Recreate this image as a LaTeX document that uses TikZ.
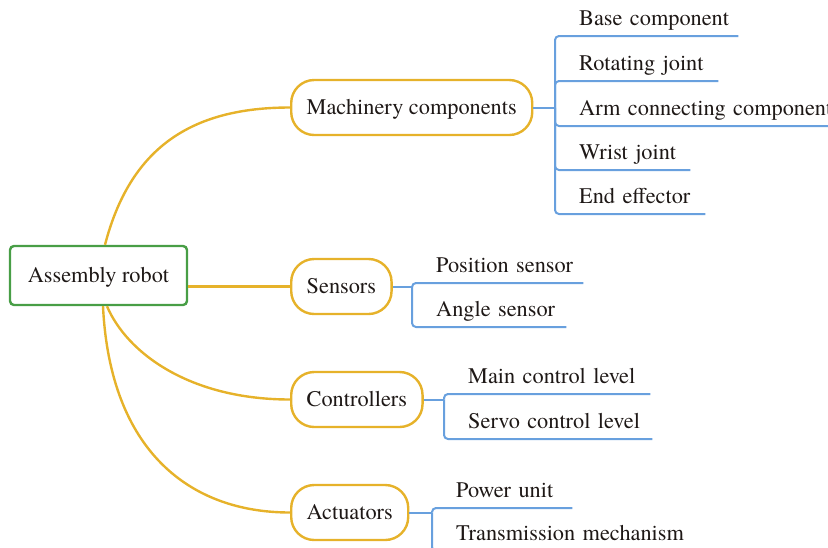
\documentclass[tikz,border=0pt]{standalone}
\usepackage{fontspec}
\newfontfamily\mapserif{TeX Gyre Termes}
\definecolor{branchgold}{RGB}{230,178,42}
\definecolor{leafblue}{RGB}{104,160,222}
\definecolor{rootgreen}{RGB}{72,158,70}
\definecolor{inkdark}{RGB}{30,24,22}
\tikzset{
  mapfont/.style={font=\mapserif\fontsize{22.3}{26}\selectfont, text=inkdark},
  rootbox/.style={mapfont, draw=rootgreen, line width=2.4pt, rounded corners=4pt,
    minimum width=177pt, minimum height=59pt, inner sep=0pt,
    text height=16pt, text depth=1.4pt},
  topicbox/.style={mapfont, draw=branchgold, line width=2.4pt, rounded corners=23pt,
    minimum height=55pt, inner xsep=15.5pt, inner ysep=0pt, anchor=west,
    text height=16pt, text depth=1.4pt},
  leaftext/.style={mapfont, inner xsep=0pt, inner ysep=10pt, text depth=0pt,
    anchor=south west, align=left},
  goldlink/.style={draw=branchgold, line width=2.4pt},
  bluelink/.style={draw=leafblue, line width=2pt, rounded corners=4pt},
}
\begin{document}
\begin{tikzpicture}[x=1pt, y=-1pt]
\clip (0,0) rectangle (828,547);

% central topic
\node[rootbox] (root) at (98.5,275.5) {Assembly robot};

% main branches
\node[topicbox] (mach) at (290,107.5) {Machinery components};
\node[topicbox] (sens) at (290,286.5) {Sensors};
\node[topicbox] (ctrl) at (290,399.5) {Controllers};
\node[topicbox] (act)  at (290,512.5) {Actuators};

\draw[goldlink] ([xshift=6.5pt]root.north) .. controls +(25,-96) and +(-100,0) .. (mach.west);
\draw[goldlink] (root.east |- sens.west) -- (sens.west);
\draw[goldlink] ([xshift=8.5pt]root.south) .. controls +(20,47) and +(-100,0) .. (ctrl.west);
\draw[goldlink] ([xshift=4.5pt]root.south) .. controls +(7,145) and +(-100,0) .. (act.west);

% machinery components
\coordinate (mb) at (555,107.5);
\node[leaftext, text width=159pt] (m1) at (579,36)  {Base component};
\node[leaftext, text width=139pt] (m2) at (579,81)  {Rotating joint};
\node[leaftext, text width=271pt] (m3) at (579,126) {Arm connecting component};
\node[leaftext, text width=111pt] (m4) at (579,170) {Wrist joint};
\node[leaftext, text width=126pt] (m5) at (579,214) {End effector};
\draw[bluelink] (mach.east) -- (mb);
\foreach \leaf in {m1,m2,m3,m4,m5} \draw[bluelink] (mb) |- (\leaf.south east);

% sensors
\coordinate (sb) at (412,286.5);
\node[leaftext, text width=147pt] (s1) at (436,283) {Position sensor};
\node[leaftext, text width=130pt] (s2) at (436,327) {Angle sensor};
\draw[bluelink] (sens.east) -- (sb);
\foreach \leaf in {s1,s2} \draw[bluelink] (sb) |- (\leaf.south east);

% controllers
\coordinate (cb) at (444,399.5);
\node[leaftext, text width=182pt] (c1) at (468,394) {Main control level};
\node[leaftext, text width=184pt] (c2) at (468,439) {Servo control level};
\draw[bluelink] (ctrl.east) -- (cb);
\foreach \leaf in {c1,c2} \draw[bluelink] (cb) |- (\leaf.south east);

% actuators
\coordinate (ab) at (432,512.5);
\node[leaftext, text width=116pt] (a1) at (456,508) {Power unit};
\node[leaftext, text width=250pt] (a2) at (456,551) {Transmission mechanism};
\draw[bluelink] (act.east) -- (ab);
\foreach \leaf in {a1,a2} \draw[bluelink] (ab) |- (\leaf.south east);
\end{tikzpicture}
\end{document}
